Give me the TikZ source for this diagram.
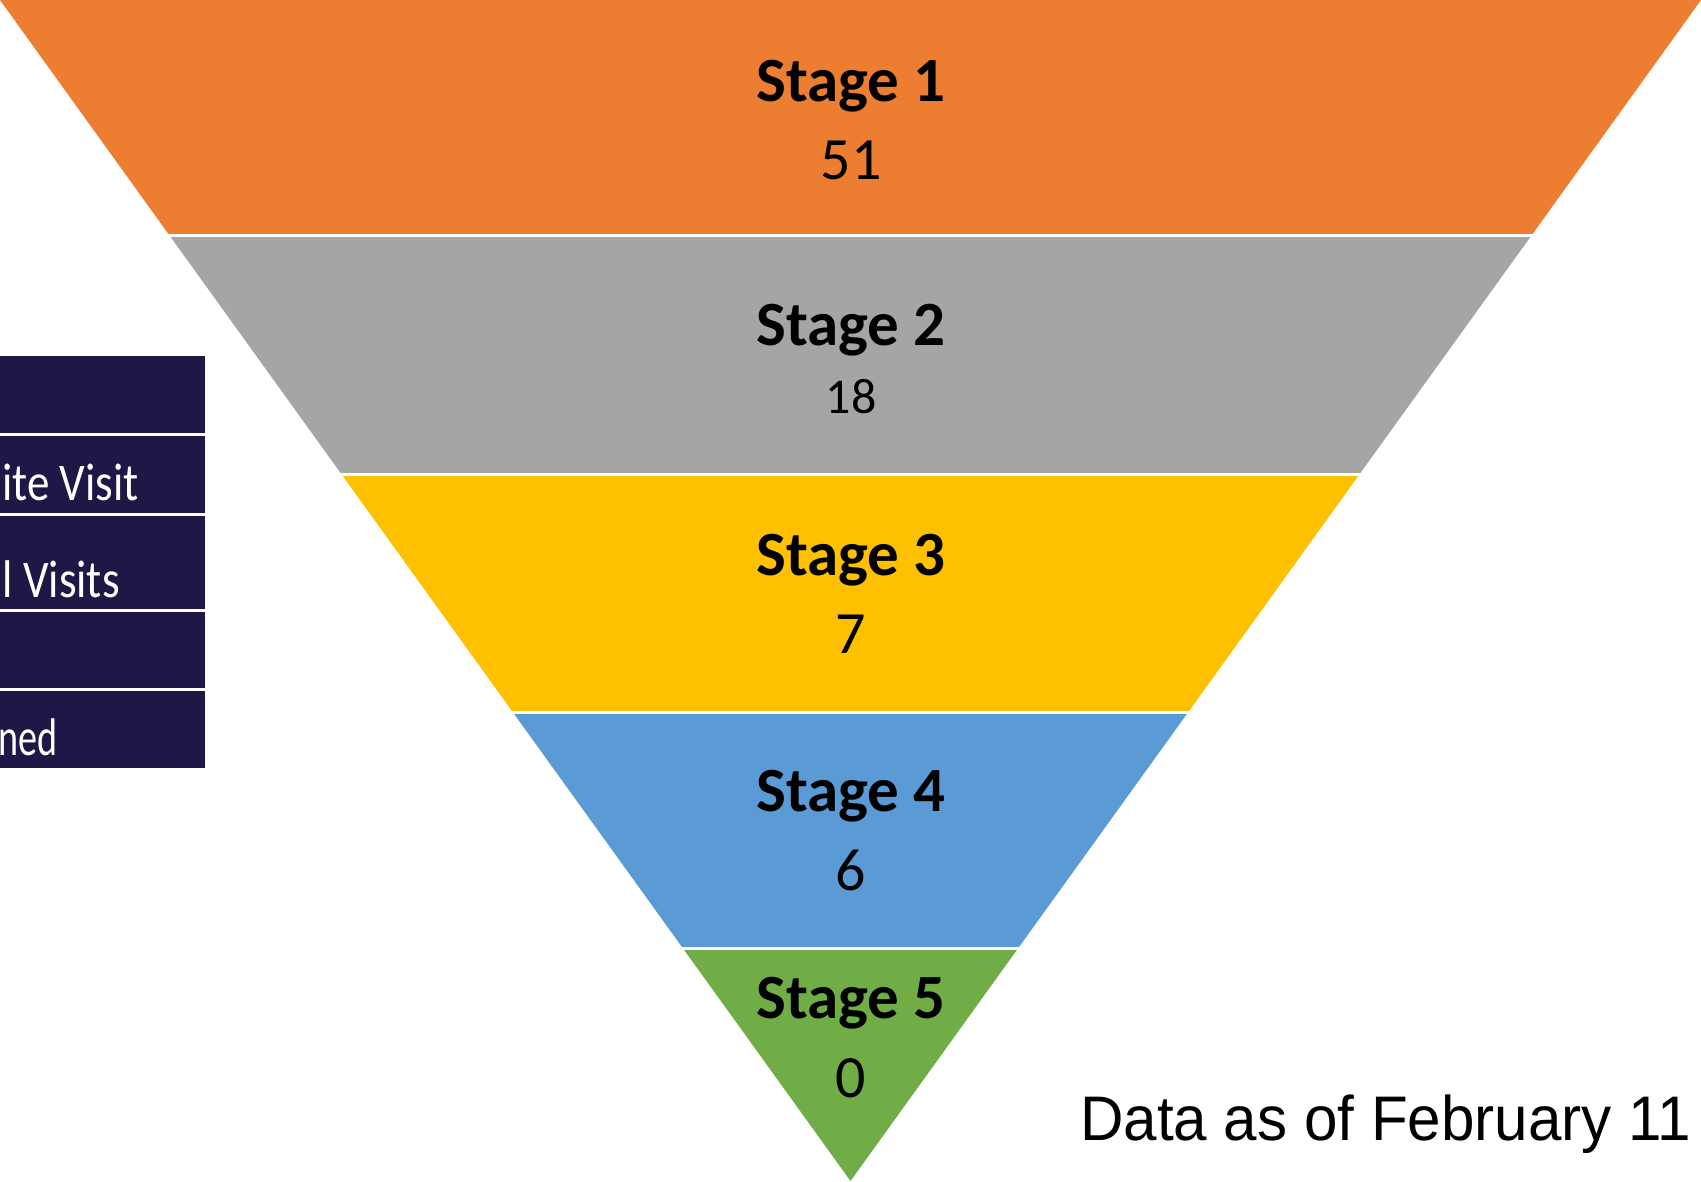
\documentclass[tikz,border=0pt]{standalone}
\usepackage{fontspec}
\setmainfont{Carlito}
\newfontfamily\datafont{Liberation Sans}
\definecolor{cOrange}{HTML}{ED7D31}
\definecolor{cGray}{HTML}{A5A5A5}
\definecolor{cYellow}{HTML}{FFC000}
\definecolor{cBlue}{HTML}{5B9BD5}
\definecolor{cGreen}{HTML}{70AD47}
\definecolor{cNavy}{RGB}{32,23,70}
\tikzset{
  stagelbl/.style={anchor=base, inner sep=0pt, font=\fontsize{63bp}{63bp}\selectfont\bfseries},
  countlbl/.style={anchor=base, inner sep=0pt, font=\fontsize{60bp}{60bp}\selectfont},
  sidebox/.style={fill=cNavy, draw=none},
  sidetxt/.style={anchor=base east, inner sep=0pt, text=white, font=\fontsize{53bp}{53bp}\selectfont},
  sep/.style={draw=white, line width=3bp}
}
\begin{document}
\begin{tikzpicture}[x=1bp,y=-1bp]
\useasboundingbox (0,0) rectangle (1701,1181);
\clip (0,0) rectangle (1701,1181);
\fill[white] (0,0) rectangle (1701,1181);
% funnel bands (left edge x = 0.72015*y)
\fill[cOrange] (0,0) -- (1701,0) -- (1701-169.2,235) -- (169.2,235) -- cycle;
\fill[cGray] (169.2,235) -- (1701-169.2,235) -- (1701-341.7,474.5) -- (341.7,474.5) -- cycle;
\fill[cYellow] (341.7,474.5) -- (1701-341.7,474.5) -- (1701-512.7,712) -- (512.7,712) -- cycle;
\fill[cBlue] (512.7,712) -- (1701-512.7,712) -- (1701-682.7,948) -- (682.7,948) -- cycle;
\fill[cGreen] (682.7,948) -- (1701-682.7,948) -- (850.5,1181) -- cycle;
\draw[sep] (150,235) -- (1560,235);
\draw[sep] (320,474.5) -- (1380,474.5);
\draw[sep] (490,712) -- (1210,712);
\draw[sep] (660,948) -- (1040,948);
% labels
\node[stagelbl] (s1) at (851,101) {Stage 1};
\node[countlbl] (n1) at (851,179) {51};
\node[stagelbl] (s2) at (851,345) {Stage 2};
\node[countlbl, font=\fontsize{50bp}{50bp}\selectfont] (n2) at (851,413) {18};
\node[stagelbl] (s3) at (851,575) {Stage 3};
\node[countlbl] (n3) at (851,653) {7};
\node[stagelbl] (s4) at (851,811) {Stage 4};
\node[countlbl] (n4) at (851,890) {6};
\node[stagelbl] (s5) at (851,1018) {Stage 5};
\node[countlbl] (n5) at (851,1097) {0};
% left side boxes
\fill[sidebox] (-5,356) rectangle (205,433);
\fill[sidebox] (-5,436) rectangle (205,513);
\fill[sidebox] (-5,515.5) rectangle (205,609);
\fill[sidebox] (-5,612) rectangle (205,688);
\fill[sidebox] (-5,691) rectangle (205,768);
\node[sidetxt] (t2) at (139,500) {\scalebox{0.85}[1]{ite Visit}};
\node[sidetxt] (t3) at (120,597) {\scalebox{0.85}[1]{l Visits}};
\node[sidetxt] (t5) at (58,755) {\scalebox{0.72}[1]{ned}};
% date
\node[anchor=base west, inner sep=0pt, font=\datafont\fontsize{63bp}{63bp}\selectfont] (date) at (1080,1140) {\scalebox{0.955}[1]{Data as of February 11}};
\end{tikzpicture}
\end{document}
